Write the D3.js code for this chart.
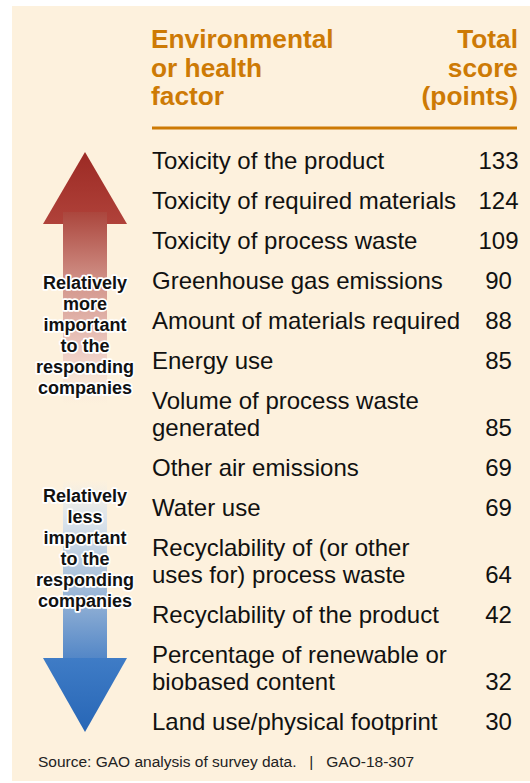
<!DOCTYPE html>
<html>
<head>
<meta charset="utf-8">
<script src="https://cdn.jsdelivr.net/npm/d3@7"></script>
<style>
  body { margin: 0; background: #fff; }
  svg { display: block; font-family: Arial, "Liberation Sans", sans-serif; }
</style>
</head>
<body>
<div id="chart"></div>
<script>
// factors in rank order, "\n" marks where the label wraps
const factors = [
  "Toxicity of the product",
  "Toxicity of required materials",
  "Toxicity of process waste",
  "Greenhouse gas emissions",
  "Amount of materials required",
  "Energy use",
  "Volume of process waste\ngenerated",
  "Other air emissions",
  "Water use",
  "Recyclability of (or other\nuses for) process waste",
  "Recyclability of the product",
  "Percentage of renewable or\nbiobased content",
  "Land use/physical footprint"
]
const scores = [133, 124, 109, 90, 88, 85, 85, 69, 69, 64, 42, 32, 30]

const headerLeft = ["Environmental", "or health", "factor"]
const headerRight = ["Total", "score", "(points)"]
const moreLabel = ["Relatively", "more", "important", "to the", "responding", "companies"]
const lessLabel = ["Relatively", "less", "important", "to the", "responding", "companies"]
const source = "Source: GAO analysis of survey data.\u00a0\u00a0\u00a0|\u00a0\u00a0\u00a0GAO-18-307"

const width = 530
const height = 783
const orange = "#cd7a05"
const bg = "#fdf1dd"

const svg = d3.select("#chart").append("svg")
    .attr("width", width)
    .attr("height", height)
    .attr("viewBox", [0, 0, width, height])

svg.append("rect")
    .attr("x", 12).attr("y", 6)
    .attr("width", width - 12).attr("height", 775)
    .attr("fill", bg)

const defs = svg.append("defs")
function vGrad(id, stops) {
  const g = defs.append("linearGradient").attr("id", id)
      .attr("x1", 0).attr("y1", 0).attr("x2", 0).attr("y2", 1)
  stops.forEach(s => g.append("stop")
      .attr("offset", s[0]).attr("stop-color", s[1]).attr("stop-opacity", s[2]))
}
vGrad("redHead", [[0, "#9c2a24", 1], [1, "#b0423a", 1]])
vGrad("redShaft", [[0, "#ab463d", 1], [0.4, "#d59a90", 1], [0.75, "#efcfc6", 1], [1, "#f8e4d6", 0]])
vGrad("blueHead", [[0, "#3f7cc6", 1], [1, "#2766b6", 1]])
vGrad("blueShaft", [[0, "#e8ecee", 0], [0.2, "#dde5ec", 1], [0.55, "#a9c0da", 1], [1, "#4f84c6", 1]])

// header
const lineH = 28.5
const header = svg.append("g")
    .attr("fill", orange)
    .attr("font-weight", "bold")
    .attr("font-size", 26.3)
header.selectAll(".hl").data(headerLeft).join("text")
    .attr("class", "hl")
    .attr("x", 151)
    .attr("y", (d, i) => 48 + i * lineH)
    .text(d => d)
header.selectAll(".hr").data(headerRight).join("text")
    .attr("class", "hr")
    .attr("x", 518)
    .attr("y", (d, i) => 48 + i * lineH)
    .attr("text-anchor", "end")
    .text(d => d)

svg.append("line")
    .attr("x1", 152).attr("x2", 517)
    .attr("y1", 128).attr("y2", 128)
    .attr("stroke", orange)
    .attr("stroke-width", 3)

// rows: each row takes one step, plus a wrap step per extra line
const rowStep = 40
const wrapStep = 27
const rowLines = factors.map(f => f.split("\n"))
const extent = rowLines.map(l => rowStep + wrapStep * (l.length - 1))
const offsets = [0, ...d3.cumsum(extent)].slice(0, factors.length)
const y = d3.scaleLinear().domain([0, 1]).range([169, 169 + 1])

const rows = svg.append("g")
    .attr("font-size", 24)
    .attr("fill", "#111")
  .selectAll("g")
  .data(factors.map((f, i) => ({lines: rowLines[i], score: scores[i], off: offsets[i]})))
  .join("g")
    .attr("transform", d => `translate(0,${y(d.off)})`)

rows.each(function(d) {
  const g = d3.select(this)
  g.selectAll("text.f").data(d.lines).join("text")
      .attr("class", "f")
      .attr("x", 152)
      .attr("y", (t, i) => i * wrapStep)
      .text(t => t)
  g.append("text")
      .attr("x", 498.5)
      .attr("y", (d.lines.length - 1) * wrapStep)
      .attr("text-anchor", "middle")
      .text(d.score)
})

// arrows
const ax = 85, headHalf = 42, shaftHalf = 22
const up = svg.append("g")
up.append("path")
    .attr("d", `M${ax},152L${ax + headHalf},224L${ax - headHalf},224Z`)
    .attr("fill", "url(#redHead)")
up.append("rect")
    .attr("x", ax - shaftHalf).attr("y", 212)
    .attr("width", shaftHalf * 2).attr("height", 193)
    .attr("fill", "url(#redShaft)")

const down = svg.append("g")
down.append("rect")
    .attr("x", ax - shaftHalf).attr("y", 480)
    .attr("width", shaftHalf * 2).attr("height", 182)
    .attr("fill", "url(#blueShaft)")
down.append("path")
    .attr("d", `M${ax - headHalf},658L${ax + headHalf},658L${ax},732Z`)
    .attr("fill", "url(#blueHead)")

function sideLabel(lines, y0) {
  svg.append("g")
      .attr("font-size", 18)
      .attr("font-weight", "bold")
      .attr("text-anchor", "middle")
    .selectAll("text").data(lines).join("text")
      .attr("x", ax)
      .attr("y", (d, i) => y0 + i * 21)
      .attr("fill", "#111")
      .attr("stroke", "#fff")
      .attr("stroke-width", 3.5)
      .attr("stroke-linejoin", "round")
      .attr("paint-order", "stroke")
      .text(d => d)
}
sideLabel(moreLabel, 289)
sideLabel(lessLabel, 502)

svg.append("text")
    .attr("x", 38).attr("y", 767)
    .attr("font-size", 15.5)
    .attr("fill", "#222")
    .text(source)
</script>
</body>
</html>
